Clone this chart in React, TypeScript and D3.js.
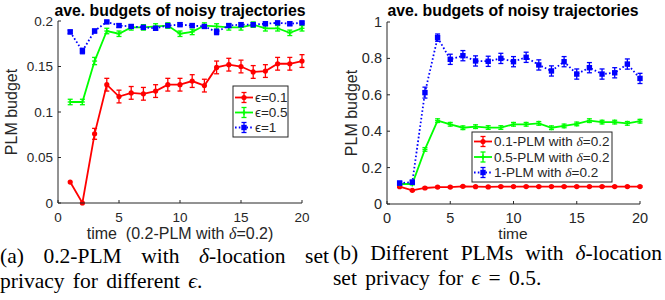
import React, { useLayoutEffect, useRef, useState } from "react";
import * as d3 from "d3";

const times = d3.range(1, 21);

// Panel (a): 0.2-PLM, different epsilon
const epsLabels = ["ϵ=0.1", "ϵ=0.5", "ϵ=1"];
const aEps01 = [0.023, 0, 0.076, 0.130, 0.117, 0.121, 0.120, 0.123, 0.130, 0.130, 0.134, 0.129, 0.149, 0.152, 0.150, 0.144, 0.145, 0.153, 0.153, 0.156];
const aEps05 = [0.111, 0.111, 0.156, 0.189, 0.186, 0.193, 0.193, 0.194, 0.195, 0.186, 0.188, 0.195, 0.194, 0.193, 0.193, 0.196, 0.192, 0.192, 0.187, 0.192];
const aEps1 = [0.188, 0.167, 0.189, 0.199, 0.195, 0.194, 0.193, 0.192, 0.195, 0.196, 0.195, 0.194, 0.188, 0.195, 0.196, 0.196, 0.197, 0.198, 0.197, 0.198];
const aErr01 = [0, 0, 0.006, 0.007, 0.007, 0.007, 0.007, 0.007, 0.007, 0.007, 0.007, 0.007, 0.007, 0.007, 0.007, 0.007, 0.007, 0.007, 0.007, 0.007];
const aErr05 = [0.003, 0.003, 0.004, 0.003, 0.003, 0.003, 0.003, 0.003, 0.003, 0.003, 0.003, 0.003, 0.003, 0.003, 0.003, 0.003, 0.003, 0.003, 0.003, 0.003];
const aErr1 = [0.002, 0.003, 0.002, 0.001, 0.002, 0.002, 0.002, 0.002, 0.002, 0.002, 0.002, 0.002, 0.003, 0.002, 0.002, 0.002, 0.002, 0.001, 0.002, 0.001];

// Panel (b): different PLMs, delta=0.2
const plmLabels = ["0.1-PLM with  δ=0.2", "0.5-PLM with  δ=0.2", "1-PLM with  δ=0.2"];
const bPlm01 = [0.095, 0.075, 0.088, 0.093, 0.093, 0.097, 0.095, 0.094, 0.096, 0.096, 0.096, 0.096, 0.096, 0.096, 0.096, 0.096, 0.096, 0.096, 0.096, 0.096];
const bPlm05 = [0.11, 0.11, 0.30, 0.458, 0.438, 0.419, 0.425, 0.42, 0.42, 0.438, 0.438, 0.443, 0.419, 0.429, 0.44, 0.458, 0.45, 0.45, 0.443, 0.455];
const bPlm1 = [0.115, 0.12, 0.612, 0.914, 0.795, 0.815, 0.786, 0.784, 0.80, 0.782, 0.806, 0.764, 0.731, 0.782, 0.714, 0.749, 0.714, 0.721, 0.769, 0.69];
const bErr01 = times.map(() => 0.004);
const bErr05 = [0.005, 0.005, 0.01, 0.01, 0.01, 0.01, 0.01, 0.01, 0.01, 0.01, 0.01, 0.01, 0.01, 0.01, 0.01, 0.01, 0.01, 0.01, 0.01, 0.01];
const bErr1 = [0.01, 0.01, 0.03, 0.02, 0.028, 0.028, 0.028, 0.028, 0.028, 0.028, 0.028, 0.028, 0.028, 0.028, 0.028, 0.028, 0.028, 0.028, 0.028, 0.028];

const xTicks = [0, 5, 10, 15, 20];
const aYTicks = [0, 0.05, 0.1, 0.15, 0.2];
const bYTicks = [0, 0.2, 0.4, 0.6, 0.8, 1];

// Caption words (segments marked with "_" are italic math symbols)
const capA1 = ["(a)", "0.2-PLM", "with", "_δ|-location", "set"];
const capB1 = ["(b)", "Different", "PLMs", "with", "_δ|-location"];

const RED = "#ff0000";
const GREEN = "#00ff00";
const BLUE = "#0000ff";
const AX = "#262626";
const SANS = "'Liberation Sans', Arial, Helvetica, sans-serif";
const SERIF = "'Liberation Serif', 'Times New Roman', serif";

type Series = { vals: number[]; err: number[]; color: string; marker: "dot" | "plus" | "square"; dotted: boolean };

function Marker({ x, y, m, color }: { x: number; y: number; m: string; color: string }) {
  if (m === "dot") return <circle cx={x} cy={y} r={2.6} fill={color} />;
  if (m === "square") return <rect x={x - 2.7} y={y - 2.7} width={5.4} height={5.4} fill={color} />;
  return (
    <g stroke={color} strokeWidth={1.3}>
      <line x1={x - 2.5} x2={x + 2.5} y1={y} y2={y} />
      <line x1={x} x2={x} y1={y - 2.5} y2={y + 2.5} />
    </g>
  );
}

function Panel({ xr, yr, ymax, yTicks, series, yFmt, fs }: { xr: [number, number]; yr: [number, number]; ymax: number; yTicks: number[]; series: Series[]; yFmt: (v: number) => string; fs: number }) {
  const x = d3.scaleLinear().domain([0, 20]).range(xr);
  const y = d3.scaleLinear().domain([0, ymax]).range(yr);
  const line = d3.line<number>().x((_, i) => x(times[i])).y((v) => y(v));
  return (
    <g>
      {series.map((s, si) => (
        <g key={si}>
          <path d={line(s.vals) || ""} fill="none" stroke={s.color} strokeWidth={1.8} strokeDasharray={s.dotted ? "1.6,2.2" : undefined} />
          {s.vals.map((v, i) => {
            const cx = x(times[i]);
            const e = s.err[i];
            if (e <= 0) return null;
            const y1 = y(v - e), y2 = y(v + e);
            return (
              <g key={i} stroke={s.color} strokeWidth={1.3}>
                <line x1={cx} x2={cx} y1={y1} y2={y2} />
                <line x1={cx - 2.5} x2={cx + 2.5} y1={y1} y2={y1} />
                <line x1={cx - 2.5} x2={cx + 2.5} y1={y2} y2={y2} />
              </g>
            );
          })}
          {s.vals.map((v, i) => (
            <Marker key={"m" + i} x={x(times[i])} y={y(v)} m={s.marker} color={s.color} />
          ))}
        </g>
      ))}
      <line x1={xr[0]} x2={xr[1]} y1={yr[0]} y2={yr[0]} stroke={AX} strokeWidth={1} />
      <line x1={xr[0]} x2={xr[0]} y1={yr[0]} y2={yr[1]} stroke={AX} strokeWidth={1} />
      {xTicks.map((t) => (
        <g key={"xt" + t}>
          <line x1={x(t)} x2={x(t)} y1={yr[0]} y2={yr[0] - 3} stroke={AX} />
          <text x={x(t)} y={yr[0] + 19} textAnchor="middle" fontSize={fs} fill={AX} fontFamily={SANS}>{t}</text>
        </g>
      ))}
      {yTicks.map((t) => (
        <g key={"yt" + t}>
          <line x1={xr[0]} x2={xr[0] + 3} y1={y(t)} y2={y(t)} stroke={AX} />
          <text x={xr[0] - 5} y={y(t) + fs * 0.35} textAnchor="end" fontSize={fs} fill={AX} fontFamily={SANS}>{yFmt(t)}</text>
        </g>
      ))}
    </g>
  );
}

function LegendEntry({ x, y, s, label }: { x: number; y: number; s: Series; label: React.ReactNode }) {
  const cx = x + 9;
  return (
    <g>
      <line x1={x} x2={x + 18} y1={y} y2={y} stroke={s.color} strokeWidth={1.8} strokeDasharray={s.dotted ? "1.6,2.2" : undefined} />
      <g stroke={s.color} strokeWidth={1.3}>
        <line x1={cx} x2={cx} y1={y - 5} y2={y + 5} />
        <line x1={cx - 2.5} x2={cx + 2.5} y1={y - 5} y2={y - 5} />
        <line x1={cx - 2.5} x2={cx + 2.5} y1={y + 5} y2={y + 5} />
      </g>
      <Marker x={cx} y={y} m={s.marker} color={s.color} />
      <text x={x + 20} y={y + 4.8} fontSize={13.5} fill={AX} fontFamily={SANS}>{label}</text>
    </g>
  );
}

function Word({ w }: { w: string }) {
  if (w.startsWith("_")) {
    const [g, rest] = w.slice(1).split("|");
    return <><tspan fontStyle="italic">{g}</tspan>{rest}</>;
  }
  return <>{w}</>;
}

function JustLine({ x0, x1, y, words }: { x0: number; x1: number; y: number; words: string[] }) {
  const refs = useRef<(SVGTextElement | null)[]>([]);
  const [xs, setXs] = useState<number[]>(() => words.map((_, i) => x0 + ((x1 - x0) * i) / words.length));
  useLayoutEffect(() => {
    const widths = refs.current.map((r) => (r ? r.getComputedTextLength() : 0));
    const total = widths.reduce((a, b) => a + b, 0);
    const gap = (x1 - x0 - total) / Math.max(1, words.length - 1);
    const out: number[] = [];
    let cur = x0;
    widths.forEach((w) => { out.push(cur); cur += w + gap; });
    setXs(out);
  }, [x0, x1, words]);
  return (
    <g>
      {words.map((w, i) => (
        <text key={i} ref={(el) => { refs.current[i] = el; }} x={xs[i]} y={y}><Word w={w} /></text>
      ))}
    </g>
  );
}

export default function App() {
  const aSeries: Series[] = [
    { vals: aEps01, err: aErr01, color: RED, marker: "dot", dotted: false },
    { vals: aEps05, err: aErr05, color: GREEN, marker: "plus", dotted: false },
    { vals: aEps1, err: aErr1, color: BLUE, marker: "square", dotted: true },
  ];
  const bSeries: Series[] = [
    { vals: bPlm01, err: bErr01, color: RED, marker: "dot", dotted: false },
    { vals: bPlm05, err: bErr05, color: GREEN, marker: "plus", dotted: false },
    { vals: bPlm1, err: bErr1, color: BLUE, marker: "square", dotted: true },
  ];
  const fmtA = (v: number) => (v === 0 ? "0" : String(+v.toFixed(2)));
  const fmtB = (v: number) => (v === 0 ? "0" : String(+v.toFixed(1)));
  return (
    <svg width={665} height={300} style={{ position: "absolute", left: 0, top: 0, background: "#fff" }}>
      <rect width={665} height={300} fill="#fff" />
      {/* Panel a */}
      <text x={180} y={16} textAnchor="middle" fontSize={15.8} fontWeight="bold" fontFamily={SANS} fill="#000">ave. budgets of noisy trajectories</text>
      <Panel xr={[58, 302]} yr={[203, 21]} ymax={0.2} yTicks={aYTicks} series={aSeries} yFmt={fmtA} fs={13.5} />
      <text transform="translate(17,112) rotate(-90)" textAnchor="middle" fontSize={16} fill={AX} fontFamily={SANS}>PLM budget</text>
      <text x={180} y={239} textAnchor="middle" fontSize={16} fill={AX} fontFamily={SANS} xmlSpace="preserve">
        time  (0.2-PLM with <tspan fontStyle="italic" fontFamily={SERIF}>δ</tspan>=0.2)
      </text>
      <rect x={233} y={86} width={55} height={51} fill="#fff" stroke={AX} strokeWidth={1} />
      {aSeries.map((s, i) => (
        <LegendEntry key={i} x={235} y={97.5 + i * 15} s={s} label={epsLabels[i]} />
      ))}

      {/* Panel b */}
      <text x={513} y={16} textAnchor="middle" fontSize={15.8} fontWeight="bold" fontFamily={SANS} fill="#000">ave. budgets of noisy trajectories</text>
      <Panel xr={[387, 640]} yr={[204, 22]} ymax={1} yTicks={bYTicks} series={bSeries} yFmt={fmtB} fs={14.5} />
      <text transform="translate(357,113) rotate(-90)" textAnchor="middle" fontSize={16} fill={AX} fontFamily={SANS}>PLM budget</text>
      <text x={513} y={239} textAnchor="middle" fontSize={15.5} fill={AX} fontFamily={SANS}>time</text>
      <rect x={472} y={132} width={140} height={50} fill="#fff" stroke={AX} strokeWidth={1} />
      {bSeries.map((s, i) => {
        const parts = plmLabels[i].split("δ");
        return (
          <LegendEntry key={i} x={474} y={141.5 + i * 15.5} s={s}
            label={<>{parts[0]}<tspan fontStyle="italic" fontFamily={SERIF}>δ</tspan>{parts[1]}</>} />
        );
      })}

      {/* Captions */}
      <g fontFamily={SERIF} fontSize={21.5} fill="#000">
        <JustLine x0={0} x1={329} y={263} words={capA1} />
        <text x={0} y={288} wordSpacing={3}>privacy for different <tspan fontStyle="italic">ϵ</tspan>.</text>
        <JustLine x0={333} x1={662} y={260} words={capB1} />
        <text x={333} y={285} wordSpacing={3}>set privacy for <tspan fontStyle="italic">ϵ</tspan> = 0.5.</text>
      </g>
    </svg>
  );
}
